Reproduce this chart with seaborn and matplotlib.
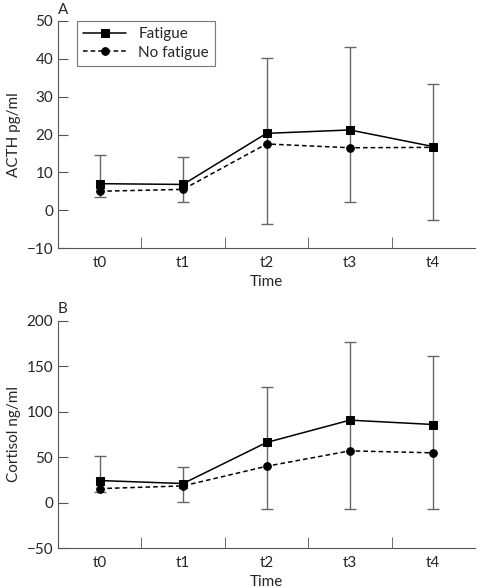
import numpy as np
import pandas as pd
import matplotlib
matplotlib.use("Agg")
import matplotlib.pyplot as plt
import seaborn as sns

# ---------------------------------------------------------
# Data (mean, and SD shown as one-sided bars:
# fatigue bar goes up, no-fatigue bar goes down)
# ---------------------------------------------------------
times = ["t0", "t1", "t2", "t3", "t4"]
groups = ["Fatigue", "No fatigue"]

acth_fatigue = [7.0, 6.8, 20.3, 21.2, 16.8]
acth_nofatigue = [5.0, 5.5, 17.5, 16.5, 16.6]
acth_fatigue_sd = [7.5, 7.2, 19.9, 22.0, 16.6]
acth_nofatigue_sd = [1.5, 3.4, 21.2, 14.4, 19.1]

cort_fatigue = [24.3, 21.0, 66.2, 90.8, 86.0]
cort_nofatigue = [15.4, 18.4, 40.0, 57.0, 54.8]
cort_fatigue_sd = [27.5, 18.3, 60.6, 86.0, 75.8]
cort_nofatigue_sd = [4.0, 17.7, 47.4, 64.4, 62.2]

sns.set_style("ticks")
plt.rcParams["font.family"] = ["Lato", "DejaVu Sans"]
plt.rcParams["font.size"] = 11

fig = plt.figure(figsize=(4.8, 5.88), dpi=100)
ax_a = fig.add_axes([58 / 480, 1 - 248 / 588, 417 / 480, 227 / 588])
ax_b = fig.add_axes([58 / 480, 1 - 548 / 588, 417 / 480, 227 / 588])

spine_col = "#555555"


def draw_panel(ax, fat, nof, fat_sd, nof_sd, ylabel, ylim, yticks, show_legend):
    x = np.arange(len(times))
    df = pd.DataFrame({
        "x": np.concatenate([x, x]),
        "value": np.concatenate([fat, nof]),
        "group": [groups[0]] * len(times) + [groups[1]] * len(times),
    })

    # error bars: from no-fatigue mean - SD up to fatigue mean + SD
    fat = np.array(fat)
    upper = fat + np.array(fat_sd)
    lower = np.array(nof) - np.array(nof_sd)
    ax.errorbar(x, fat, yerr=[fat - lower, upper - fat], fmt="none",
                ecolor="#666666", elinewidth=1, capsize=4, capthick=1, zorder=1)

    sns.lineplot(data=df, x="x", y="value", style="group",
                 markers={"Fatigue": "s", "No fatigue": "o"},
                 dashes={"Fatigue": "", "No fatigue": (3, 2)},
                 color="black", markersize=5.5, markeredgecolor="black",
                 linewidth=1.1, ax=ax, zorder=3, legend=show_legend)

    ax.set_xlim(-0.5, 4.5)
    ax.set_xticks(x)
    ax.set_xticklabels(times)
    ax.set_xticks([0.5, 1.5, 2.5, 3.5], minor=True)
    ax.tick_params(axis="x", which="major", length=0, pad=6, labelsize=11)
    ax.tick_params(axis="x", which="minor", direction="in", length=8, color=spine_col)
    ax.set_ylim(*ylim)
    ax.set_yticks(yticks)
    ax.tick_params(axis="y", direction="in", length=7, color=spine_col, labelsize=11)
    ax.set_xlabel("Time", fontsize=11, labelpad=3)
    ax.set_ylabel(ylabel, fontsize=11)
    for s in ["top", "right"]:
        ax.spines[s].set_visible(False)
    for s in ["left", "bottom"]:
        ax.spines[s].set_color(spine_col)

    if show_legend:
        handles, labels = ax.get_legend_handles_labels()
        leg = ax.legend(handles, labels, loc="upper left", bbox_to_anchor=(0.046, 1.0),
                        borderaxespad=0, frameon=True, fancybox=False, edgecolor=spine_col,
                        handlelength=2.8, borderpad=0.4, labelspacing=0.3, fontsize=11)
        leg.get_frame().set_linewidth(0.8)


draw_panel(ax_a, acth_fatigue, acth_nofatigue, acth_fatigue_sd, acth_nofatigue_sd,
           "ACTH pg/ml", (-10, 50), range(-10, 51, 10), True)
draw_panel(ax_b, cort_fatigue, cort_nofatigue, cort_fatigue_sd, cort_nofatigue_sd,
           "Cortisol ng/ml", (-50, 200), range(-50, 201, 50), False)

fig.text(58 / 480, 1 - 10 / 588, "A", va="center", fontsize=11)
fig.text(58 / 480, 1 - 309 / 588, "B", va="center", fontsize=11)

plt.savefig("out.png", dpi=100)
plt.close()
